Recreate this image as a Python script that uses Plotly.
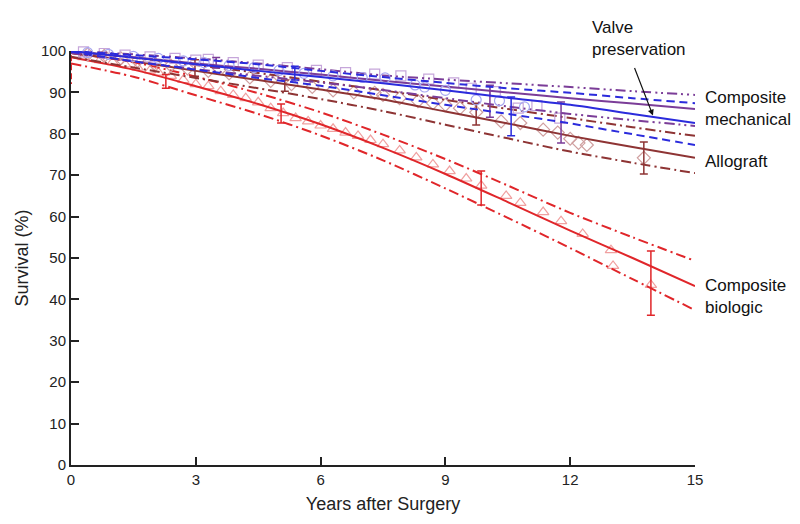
import plotly.graph_objects as go

# ---- time grid (years after surgery) ----
t = [0, 1.5, 3, 4.5, 6, 7.5, 9, 10.5, 12, 13.5, 15]

# Composite biologic (red)
red_mid = [98.5, 95.5, 91.5, 87.2, 82.3, 76.6, 70.3, 63.5, 56.6, 50.0, 43.2]
red_hi = [99.5, 97.3, 93.8, 89.8, 85.2, 79.8, 73.9, 67.5, 60.9, 55.0, 49.3]
red_lo = [97.0, 93.8, 89.3, 84.8, 79.6, 73.6, 66.8, 59.7, 52.4, 44.9, 37.4]
red_drop_x = [0, 0]
red_drop_y = [99, 92]

# Allograft (brown)
br_mid = [99.5, 97.5, 95.2, 93.0, 90.7, 88.3, 85.4, 82.5, 79.5, 76.8, 74.2]
br_hi = [100.0, 98.4, 96.6, 94.7, 92.6, 90.5, 88.2, 86.0, 83.8, 81.6, 79.5]
br_lo = [98.6, 96.0, 93.5, 91.0, 88.4, 85.5, 82.2, 78.9, 75.7, 73.0, 70.5]

# Composite mechanical (purple)
pu_mid = [99.8, 98.5, 97.0, 95.7, 94.3, 92.8, 91.4, 90.0, 88.6, 87.3, 86.0]
pu_hi = [100.0, 99.2, 98.2, 97.0, 95.6, 94.1, 93.1, 92.2, 91.3, 90.3, 89.4]
pu_lo = [99.5, 97.5, 95.6, 94.0, 92.4, 90.6, 88.6, 86.6, 84.8, 83.3, 81.9]

# Valve preservation (blue)
bl_mid = [100.0, 98.4, 96.8, 95.2, 93.7, 92.2, 90.5, 88.7, 87.0, 84.8, 82.6]
bl_hi = [100.0, 99.0, 98.0, 96.8, 95.2, 93.7, 92.3, 91.0, 89.9, 88.6, 87.4]
bl_lo = [99.8, 97.5, 95.5, 93.5, 91.6, 89.3, 87.0, 84.8, 82.5, 79.9, 77.3]

# Nonparametric estimates (open symbols)
red_mk_x = [0.3, 0.7, 1.0, 1.3, 1.6, 1.9, 2.1, 2.4, 2.7, 3.0, 3.3, 3.6, 3.9, 4.2, 4.5, 4.8, 5.1, 5.4, 5.7,
            6.0, 6.3, 6.6, 6.9, 7.2, 7.5, 7.9, 8.3, 8.7, 9.1, 9.5, 9.86, 10.46, 10.8, 11.35, 11.78,
            12.3, 12.98, 13.03, 13.94]
red_mk_y = [98.5, 97.8, 97.3, 96.8, 96.0, 95.3, 94.8, 94.0, 93.0, 92.0, 91.5, 90.3, 89.4, 88.6, 87.6,
            86.2, 85.0, 83.8, 83.0, 82.0, 81.2, 80.3, 79.5, 78.5, 77.5, 76.0, 74.3, 72.6, 71.0, 69.2,
            67.5, 65.0, 63.3, 61.1, 58.9, 55.8, 51.9, 48.1, 43.5]
br_mk_x = [0.4, 0.8, 1.2, 1.6, 2.0, 2.4, 2.8, 3.3, 3.8, 4.3, 4.8, 5.3, 5.8, 6.3, 6.8, 7.3, 7.5, 7.9,
           8.34, 8.7, 9.0, 9.35, 9.74, 10.34, 10.8, 11.35, 11.7, 12.0, 12.2, 12.4, 13.77]
br_mk_y = [99.2, 98.8, 98.2, 97.6, 97.0, 96.5, 95.8, 95.2, 94.6, 93.6, 92.8, 92.0, 91.3, 90.5, 90.0,
           89.9, 89.4, 88.6, 87.9, 87.4, 87.0, 86.2, 85.2, 83.0, 82.6, 81.0, 80.3, 78.8, 77.8, 77.3, 74.2]
bl_mk_x = [0.4, 0.9, 1.5, 2.1, 2.7, 3.2, 3.8, 4.4, 5.0, 5.6, 6.3, 7.0, 7.55, 8.27, 8.5, 9.0, 9.74,
           10.3, 10.9]
bl_mk_y = [99.6, 99.2, 98.7, 98.2, 97.6, 97.2, 96.5, 96.0, 95.3, 94.6, 94.0, 93.6, 93.5, 91.8, 91.3,
           90.5, 88.2, 88.0, 86.5]
pu_mk_x = [0.3, 0.8, 1.3, 1.9, 2.5, 3.0, 3.3, 3.9, 4.5, 5.2, 5.9, 6.6, 7.3, 7.93, 8.6, 9.2, 9.62,
           10.2, 10.75, 11.2, 11.75]
pu_mk_y = [99.8, 99.4, 99.0, 98.6, 98.2, 97.8, 98.0, 97.2, 96.6, 96.0, 95.3, 94.8, 94.4, 94.0, 93.2,
           92.3, 91.0, 90.2, 86.2, 86.8, 83.8]

# Confidence limits (error bars): x, upper, lower
red_eb_x = [2.28, 5.05, 9.86, 13.94]
red_eb_hi = [94.3, 87.2, 71.0, 51.7]
red_eb_lo = [91.0, 82.6, 62.8, 36.2]
br_eb_x = [2.98, 5.14, 9.74, 13.77]
br_eb_hi = [97.9, 93.0, 87.4, 78.0]
br_eb_lo = [93.9, 90.3, 82.1, 70.3]
pu_eb_x = [3.49, 10.07, 11.78]
pu_eb_hi = [98.4, 91.7, 87.7]
pu_eb_lo = [95.9, 84.0, 77.8]
bl_eb_x = [5.38, 10.58]
bl_eb_hi = [96.3, 88.9]
bl_eb_lo = [93.0, 79.5]

x_ticks = [0, 3, 6, 9, 12, 15]
y_ticks = [0, 10, 20, 30, 40, 50, 60, 70, 80, 90, 100]

RED, BROWN, PURPLE, BLUE = "#e0262a", "#8e3434", "#7b3d98", "#2b2bdc"
RED_F, BROWN_F, PURPLE_F, BLUE_F = "#f0a0a0", "#d0a0a0", "#c6a6da", "#a6a6f2"

fig = go.Figure()


def add_group(mid, hi, lo, color, dash_ci, mkx, mky, mcolor, symbol, ebx, ebhi, eblo):
    fig.add_trace(go.Scatter(x=mkx, y=mky, mode="markers", cliponaxis=False,
                             marker=dict(symbol=symbol, size=10, color=mcolor,
                                         line=dict(color=mcolor, width=1.2))))
    for ys, dash in ((hi, dash_ci), (lo, dash_ci), (mid, "solid")):
        fig.add_trace(go.Scatter(x=t, y=ys, mode="lines", cliponaxis=False,
                                 line=dict(color=color, width=2, dash=dash, shape="spline",
                                           smoothing=0.8)))
    mids = [(a + b) / 2 for a, b in zip(ebhi, eblo)]
    half = [(a - b) / 2 for a, b in zip(ebhi, eblo)]
    fig.add_trace(go.Scatter(x=ebx, y=mids, mode="markers", cliponaxis=False,
                             marker=dict(size=1, color="rgba(0,0,0,0)"),
                             error_y=dict(type="data", array=half, visible=True,
                                          color=color, thickness=1.5, width=4)))


add_group(red_mid, red_hi, red_lo, RED, "10px,4px,2px,4px", red_mk_x, red_mk_y, RED_F,
          "triangle-up-open", red_eb_x, red_eb_hi, red_eb_lo)
fig.add_trace(go.Scatter(x=red_drop_x, y=red_drop_y, mode="lines", cliponaxis=False,
                         line=dict(color=RED, width=2, dash="6px,3px")))
add_group(br_mid, br_hi, br_lo, BROWN, "10px,4px,2px,4px", br_mk_x, br_mk_y, BROWN_F,
          "diamond-open", br_eb_x, br_eb_hi, br_eb_lo)
add_group(pu_mid, pu_hi, pu_lo, PURPLE, "10px,4px,2px,4px,2px,4px", pu_mk_x, pu_mk_y, PURPLE_F,
          "square-open", pu_eb_x, pu_eb_hi, pu_eb_lo)
add_group(bl_mid, bl_hi, bl_lo, BLUE, "8px,5px", bl_mk_x, bl_mk_y, BLUE_F,
          "circle-open", bl_eb_x, bl_eb_hi, bl_eb_lo)

FONT = "Arial, Liberation Sans, Helvetica, sans-serif"
lab = dict(font=dict(family=FONT, size=17, color="#111"), showarrow=False, align="left",
           xref="x", yref="paper", xanchor="left", yanchor="middle")
fig.add_annotation(x=15, y=0.860, text="Composite<br>mechanical", xshift=8, **lab)
fig.add_annotation(x=15, y=0.734, text="Allograft", xshift=8, **lab)
fig.add_annotation(x=15, y=0.408, text="Composite<br>biologic", xshift=8, **lab)
fig.add_annotation(x=12.48, y=1.029, text="Valve<br>preservation", **lab)
fig.add_annotation(x=13.99, y=84.4, ax=-19, ay=-49, text="", showarrow=True,
                   arrowhead=2, arrowsize=1, arrowwidth=1.2, arrowcolor="#111",
                   xref="x", yref="y")

axis_common = dict(showgrid=False, zeroline=False, showline=True, linecolor="#222", linewidth=2,
                   ticks="inside", ticklen=8, tickwidth=2, tickcolor="#222",
                   tickfont=dict(family=FONT, size=15, color="#222"))
fig.update_xaxes(range=[0, 15], tickvals=x_ticks,
                 title=dict(text="Years after Surgery", font=dict(family=FONT, size=18, color="#222"),
                            standoff=10),
                 **axis_common)
fig.update_yaxes(range=[0, 100], tickvals=y_ticks,
                 title=dict(text="Survival (%)", font=dict(family=FONT, size=18, color="#222"),
                            standoff=8),
                 **axis_common)
fig.update_layout(width=800, height=524, showlegend=False,
                  margin=dict(l=63, r=113, t=43, b=67),
                  plot_bgcolor="white", paper_bgcolor="white")

fig.write_html("out.html")
